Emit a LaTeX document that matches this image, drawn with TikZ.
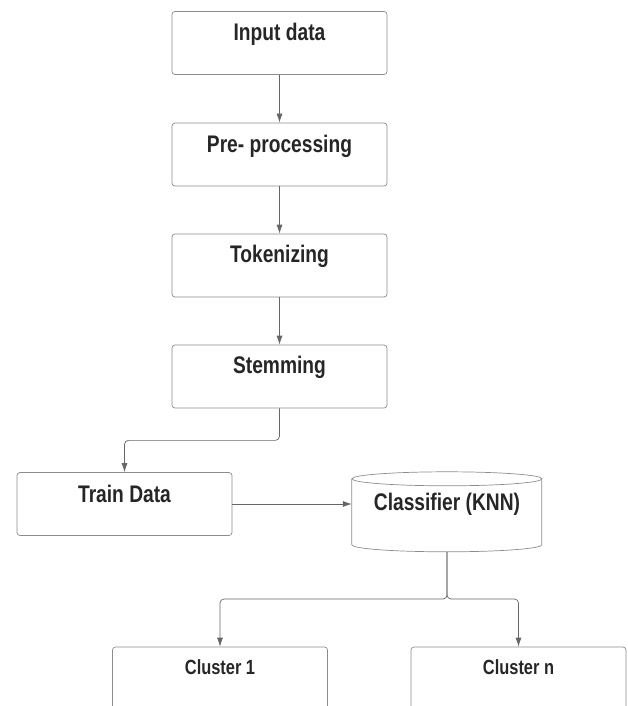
\documentclass[tikz,border=0pt]{standalone}
\usepackage{fontspec}
\newfontfamily\lblfont{Liberation Sans}[FakeStretch=0.8]
\usetikzlibrary{arrows.meta}

\begin{document}
\begin{tikzpicture}[x=1pt,y=-1pt,
  box/.style={draw=black!45,line width=0.7pt,rounded corners=3pt,minimum width=215pt,minimum height=63pt},
  txt/.style={font=\lblfont\bfseries\fontsize{24}{28}\selectfont,text=black!85},
  smalltxt/.style={font=\lblfont\bfseries\fontsize{20.5}{24}\selectfont,text=black!85},
  cylshape/.style={minimum width=190pt,minimum height=80pt},
  cylline/.style={draw=black!45,line width=0.7pt},
  link/.style={draw=black!60,line width=0.7pt,rounded corners=4pt,-{Latex[length=9pt,width=6pt]}}]

% Page
\clip (0,0) rectangle (628,706);

% Pipeline boxes
\node[box,label={[txt,yshift=9pt]center:Input data}] (input) at (279.5,43) {};
\node[box,label={[txt,yshift=8pt]center:Pre- processing}] (pre) at (279.5,154.5) {};
\node[box,label={[txt,yshift=9pt]center:Tokenizing}] (tok) at (279.5,265.5) {};
\node[box,label={[txt,yshift=9pt]center:Stemming}] (stem) at (279.5,376.5) {};

% Training and classifier
\node[box,label={[txt,yshift=10pt]center:Train Data}] (train) at (124.5,504) {};
\node[cylshape,label={[txt,yshift=8pt]center:Classifier (KNN)}] (knn) at (447,512) {};

% Cylinder outline
\draw[cylline] (knn.north) ++(0,7) ellipse [x radius=95pt,y radius=7pt];
\draw[cylline] (knn.north west) ++(0,7) -- ++(0,66)
  arc[start angle=180,end angle=360,x radius=95pt,y radius=7pt] -- ++(0,-66);

% Clusters
\node[box,label={[smalltxt,yshift=11pt]center:Cluster 1}] (clustA) at (220,678.5) {};
\node[box,label={[smalltxt,yshift=11pt]center:Cluster n}] (clustN) at (518.5,678.5) {};

% Connectors
\draw[link] (input) -- (pre);
\draw[link] (pre) -- (tok);
\draw[link] (tok) -- (stem);
\draw[link] (stem.south) -- ++(0,32) -| (train.north);
\draw[link] (train.east |- 0,504) -- (knn.west |- 0,504);
\coordinate (split) at (knn.south |- 0,599);
\draw[link] (knn.south) -- (split) -| (clustA.north);
\draw[link] (knn.south) -- (split) -| (clustN.north);

\end{tikzpicture}
\end{document}
